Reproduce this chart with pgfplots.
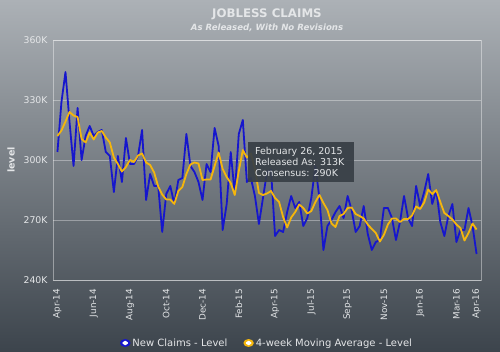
\documentclass[border=0pt]{standalone}
\usepackage{pgfplots}
\pgfplotsset{compat=1.18}
\usepackage{pgfplotstable}
\usepackage{fontspec}
\setmainfont{DejaVu Sans}
\definecolor{bgtop}{RGB}{172,177,182}
\definecolor{bgbot}{RGB}{60,68,76}
\definecolor{claimblue}{RGB}{22,22,205}
\definecolor{magold}{RGB}{245,182,12}
\definecolor{txt}{RGB}{228,230,232}
\definecolor{tipbg}{RGB}{56,63,70}

\pgfplotstableread{
i c m
0 304 312.00
1 329 314.75
2 344 319.25
3 319 324.00
4 297 322.25
5 326 321.50
6 300 310.50
7 312 308.75
8 317 313.75
9 312 310.25
10 314 313.75
11 315 314.50
12 304 311.25
13 302 308.75
14 284 301.25
15 302 298.00
16 289 294.25
17 311 296.50
18 298 300.00
19 298 299.00
20 302 302.25
21 315 303.25
22 280 298.75
23 293 297.50
24 287 293.75
25 287 286.75
26 264 282.75
27 283 280.25
28 287 280.25
29 278 278.00
30 290 284.50
31 291 286.50
32 313 293.00
33 297 297.75
34 294 298.75
35 289 298.25
36 280 290.00
37 298 290.25
38 294 290.25
39 316 297.00
40 307 303.75
41 265 295.50
42 278 291.50
43 304 288.50
44 283 282.50
45 313 294.50
46 320 305.00
47 289 301.25
48 291 303.25
49 282 295.50
50 268 283.50
51 281 282.50
52 294 283.25
53 295 284.50
54 262 281.00
55 265 279.00
56 264 271.50
57 274 266.25
58 282 271.25
59 276 274.00
60 279 277.75
61 267 276.00
62 271 273.25
63 281 274.50
64 297 279.00
65 281 282.50
66 255 278.50
67 267 275.00
68 270 268.25
69 274 266.50
70 277 272.00
71 271 273.00
72 282 276.00
73 275 276.25
74 264 273.00
75 267 272.00
76 277 270.75
77 263 267.75
78 255 265.50
79 259 263.50
80 260 259.25
81 276 262.50
82 276 267.75
83 271 270.75
84 260 270.75
85 269 269.00
86 282 270.50
87 271 270.50
88 267 272.25
89 287 276.75
90 277 275.50
91 284 278.75
92 293 285.25
93 278 283.00
94 285 285.00
95 269 279.00
96 262 273.50
97 272 272.00
98 278 270.25
99 259 267.75
100 265 266.00
101 265 259.75
102 276 263.50
103 267 268.25
104 253 265.25
}\data

\begin{document}
\begin{tikzpicture}
\shade[top color=bgtop, bottom color=bgbot] (0pt,0pt) rectangle (500pt,352pt);
\node[text=txt, font=\bfseries\fontsize{11.8}{13}\selectfont] at (267pt,338pt) {JOBLESS CLAIMS};
\node[text=txt, font=\bfseries\itshape\fontsize{8.6}{10}\selectfont] at (267pt,324pt) {As Released, With No Revisions};
\begin{axis}[
  at={(53pt,72pt)}, anchor=south west,
  scale only axis, width=428pt, height=240pt,
  xmin=-1.1, xmax=105.1, ymin=240, ymax=360,
  axis line style={white, opacity=0.4, line width=0.8pt},
  ymajorgrids, grid style={white, opacity=0.35, line width=0.8pt},
  major tick length=0pt,
  ytick={240,270,300,330,360},
  yticklabels={240K,270K,300K,330K,360K},
  xtick={0,9,18,27,36,45,54,63,72,81,90,99,104},
  xticklabels={Apr-14,Jun-14,Aug-14,Oct-14,Dec-14,Feb-15,Apr-15,Jul-15,Sep-15,Nov-15,Jan-16,Mar-16,Apr-16},
  yticklabel style={text=txt, font=\fontsize{9.3}{11}\selectfont},
  yticklabel shift=2pt,
  xticklabel style={text=txt, font=\fontsize{8.8}{10}\selectfont, rotate=90, anchor=east, xshift=1.5pt},
  xticklabel shift=7pt,
  ylabel={level},
  ylabel style={at={(axis description cs:-0.098,0.5)}, anchor=center, text=txt, font=\bfseries\fontsize{9.5}{11}\selectfont},
  legend style={at={(0.5,-0.2625)}, anchor=center, draw=none, fill=none, text=txt,
    font=\fontsize{10}{12}\selectfont, legend columns=2,
    /tikz/every even column/.append style={column sep=14pt}},
  legend cell align=left,
]
\addplot[claimblue, line width=1.8pt, line join=round,
  legend image code/.code={\fill[claimblue] (0.2cm,0) ellipse (4.3pt and 3pt); \fill[white] (0.2cm,0) ellipse (1.9pt and 1.3pt);}]
  table[x=i, y=c] {\data};
\addlegendentry{New Claims - Level}
\addplot[magold, line width=1.8pt, line join=round,
  legend image code/.code={\fill[magold] (0.2cm,0) ellipse (4.3pt and 3pt); \fill[white] (0.2cm,0) ellipse (1.9pt and 1.3pt);}]
  table[x=i, y=m] {\data};
\addlegendentry{4-week Moving Average - Level}
\end{axis}
\fill[tipbg, opacity=0.93] (248pt,170pt) rectangle (354pt,210pt);
\begin{scope}[every node/.style={text=txt, font=\fontsize{9.5}{11}\selectfont, anchor=base west, inner sep=0pt}]
\node at (255pt,197pt) {February 26, 2015};
\node at (255pt,186.3pt) {Released As: 313K};
\node at (255pt,175.3pt) {Consensus: 290K};
\end{scope}
\end{tikzpicture}
\end{document}
